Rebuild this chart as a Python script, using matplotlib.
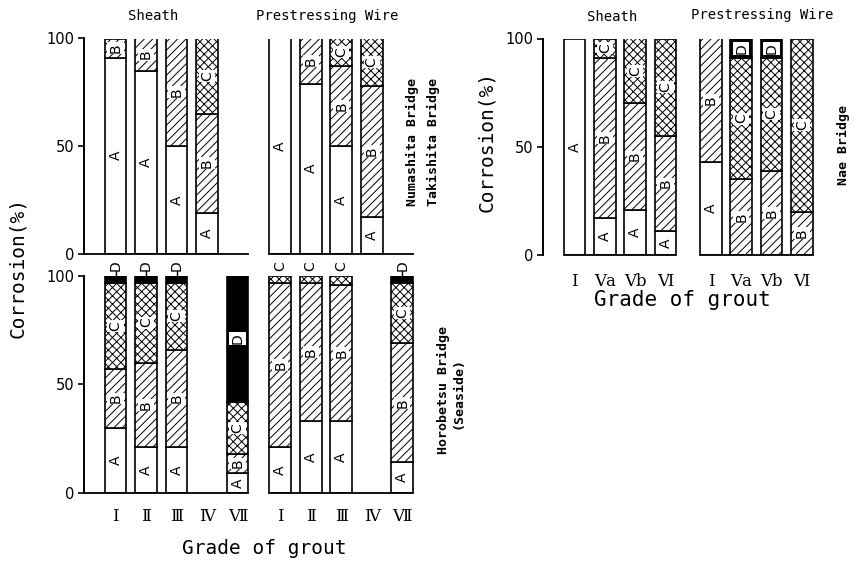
import matplotlib
matplotlib.use('Agg')
import matplotlib.pyplot as plt

plt.rcParams['hatch.linewidth'] = 0.7
plt.rcParams['font.family'] = ['DejaVu Sans']

# ---------------- data ----------------
segments = ['A', 'B', 'C', 'D']

left_grades = ['Ⅰ', 'Ⅱ', 'Ⅲ', 'Ⅳ', 'Ⅶ']
right_grades = ['Ⅰ', 'Ⅴa', 'Ⅴb', 'Ⅵ']

# Numashita / Takishita Bridge (grades I..IV)
top_sheath_A = [91, 85, 50, 19]
top_sheath_B = [9, 15, 50, 46]
top_sheath_C = [0, 0, 0, 35]
top_sheath_D = [0, 0, 0, 0]

top_wire_A = [100, 79, 50, 17]
top_wire_B = [0, 21, 37, 61]
top_wire_C = [0, 0, 13, 22]
top_wire_D = [0, 0, 0, 0]

# Horobetsu Bridge (Seaside) (grades I, II, III, IV, VII)
bot_sheath_A = [30, 21, 21, 0, 9]
bot_sheath_B = [27, 39, 45, 0, 9]
bot_sheath_C = [40, 37, 31, 0, 24]
bot_sheath_D = [3, 3, 3, 0, 58]

bot_wire_A = [21, 33, 33, 0, 14]
bot_wire_B = [76, 64, 63, 0, 55]
bot_wire_C = [3, 3, 4, 0, 28]
bot_wire_D = [0, 0, 0, 0, 3]

# Nae Bridge (grades I, Va, Vb, VI)
nae_sheath_A = [100, 17, 21, 11]
nae_sheath_B = [0, 74, 49, 44]
nae_sheath_C = [0, 9, 30, 45]
nae_sheath_D = [0, 0, 0, 0]

nae_wire_A = [43, 0, 0, 0]
nae_wire_B = [57, 35, 39, 20]
nae_wire_C = [0, 56, 52, 80]
nae_wire_D = [0, 9, 9, 0]

# ---------------- styles ----------------
hatches = {'A': '', 'B': '////', 'C': 'xxxx', 'D': ''}
faces = {'A': 'white', 'B': 'white', 'C': 'white', 'D': 'black'}
BW = 0.72
MONO = 'DejaVu Sans Mono'

W, H = 856, 562
fig = plt.figure(figsize=(W / 100, H / 100), dpi=100)


def fx(px):
    return px / W


def fy(py):
    return 1 - py / H


def draw_group(ax, xs, A, B, C, D):
    data = {'A': A, 'B': B, 'C': C, 'D': D}
    bottoms = [0.0] * len(xs)
    for seg in segments:
        for i, x in enumerate(xs):
            v = data[seg][i]
            if v <= 0:
                continue
            b = bottoms[i]
            ax.bar(x, v, BW, bottom=b, facecolor=faces[seg], edgecolor='black',
                   hatch=hatches[seg], linewidth=1.2)
            if v >= 7:
                box = None if seg == 'A' else dict(facecolor='white', edgecolor='none', pad=0.8)
                ax.text(x, b + v / 2, seg, rotation=90, ha='center', va='center',
                        fontsize=10, bbox=box, zorder=5)
            else:
                ax.text(x, 102.3, seg, rotation=90, ha='center', va='bottom',
                        fontsize=10, zorder=5)
                if seg == 'D':
                    ax.plot([x, x], [100, 102.5], color='black', lw=1.0, clip_on=False)
            bottoms[i] += v


def style_axis(ax, xlim):
    ax.set_xlim(*xlim)
    ax.set_ylim(0, 100)
    for s in ['top', 'right', 'bottom']:
        ax.spines[s].set_visible(False)
    ax.spines['left'].set_bounds(0, 100)
    ax.spines['left'].set_linewidth(1.4)
    ax.set_yticks([0, 50, 100])
    ax.set_yticklabels(['0', '50', '100'])
    ax.tick_params(axis='y', length=4, width=1.2, pad=3, labelsize=10.5)
    ax.patch.set_alpha(0)


def baseline(ax, x0, x1):
    ax.plot([x0, x1], [0, 0], color='black', lw=1.3, clip_on=False)


# left panels
left_sheath_x = [0, 1, 2, 3, 4]
left_wire_x = [5.4, 6.4, 7.4, 8.4, 9.4]
left_xlim = (-1.033, 10.0)
LW = 11.033 * 30.5

ax_tl = fig.add_axes([fx(84), fy(253.5), fx(LW), 215 / H])
draw_group(ax_tl, left_sheath_x[:4], top_sheath_A, top_sheath_B, top_sheath_C, top_sheath_D)
draw_group(ax_tl, left_wire_x[:4], top_wire_A, top_wire_B, top_wire_C, top_wire_D)
style_axis(ax_tl, left_xlim)
ax_tl.set_xticks([])
baseline(ax_tl, left_xlim[0], left_sheath_x[-1] + BW / 2)
baseline(ax_tl, left_wire_x[0] - BW / 2, left_wire_x[-1] + BW / 2)

ax_bl = fig.add_axes([fx(84), fy(492.7), fx(LW), 216.7 / H])
draw_group(ax_bl, left_sheath_x, bot_sheath_A, bot_sheath_B, bot_sheath_C, bot_sheath_D)
draw_group(ax_bl, left_wire_x, bot_wire_A, bot_wire_B, bot_wire_C, bot_wire_D)
style_axis(ax_bl, left_xlim)
ax_bl.set_xticks(left_sheath_x + left_wire_x)
ax_bl.set_xticklabels(left_grades + left_grades, family=['DejaVu Serif', 'Noto Sans CJK JP'],
                      fontsize=12)
ax_bl.tick_params(axis='x', length=0, pad=11)
baseline(ax_bl, left_xlim[0], left_sheath_x[-1] + BW / 2)
baseline(ax_bl, left_wire_x[0] - BW / 2, left_wire_x[-1] + BW / 2)

# right panel (Nae Bridge)
right_sheath_x = [0, 1, 2, 3]
right_wire_x = [4.5, 5.5, 6.5, 7.5]
right_xlim = (-1.04, 8.5)
RW = 9.54 * 30.3
ax_r = fig.add_axes([fx(543), fy(255), fx(RW), 216.5 / H])
draw_group(ax_r, right_sheath_x, nae_sheath_A, nae_sheath_B, nae_sheath_C, nae_sheath_D)
draw_group(ax_r, right_wire_x, nae_wire_A, nae_wire_B, nae_wire_C, nae_wire_D)
style_axis(ax_r, right_xlim)
ax_r.set_xticks(right_sheath_x + right_wire_x)
ax_r.set_xticklabels(right_grades + right_grades, family=['DejaVu Serif', 'Noto Sans CJK JP'],
                     fontsize=12)
ax_r.tick_params(axis='x', length=0, pad=13)
baseline(ax_r, right_sheath_x[0] - BW / 2, right_sheath_x[-1] + BW / 2)
baseline(ax_r, right_wire_x[0] - BW / 2, right_wire_x[-1] + BW / 2)

# ---------------- texts ----------------
fig.text(fx(153), fy(16), 'Sheath', family=MONO, fontsize=10, ha='center', va='center')
fig.text(fx(327), fy(16), 'Prestressing Wire', family=MONO, fontsize=10, ha='center', va='center')
fig.text(fx(612), fy(17), 'Sheath', family=MONO, fontsize=10, ha='center', va='center')
fig.text(fx(762), fy(15), 'Prestressing Wire', family=MONO, fontsize=10, ha='center', va='center')

fig.text(fx(18), fy(267), 'Corrosion(%)', family=MONO, fontsize=14, rotation=90,
         ha='center', va='center')
fig.text(fx(487), fy(142), 'Corrosion(%)', family=MONO, fontsize=14, rotation=90,
         ha='center', va='center')
fig.text(fx(264), fy(549), 'Grade of grout', family=MONO, fontsize=14, ha='center', va='center')
fig.text(fx(682), fy(300), 'Grade of grout', family=MONO, fontsize=15, ha='center', va='center')

fig.text(fx(412), fy(142), 'Numashita Bridge', family=MONO, fontsize=9.5, rotation=90,
         ha='center', va='center', weight='bold')
fig.text(fx(433), fy(142), 'Takishita Bridge', family=MONO, fontsize=9.5, rotation=90,
         ha='center', va='center', weight='bold')
fig.text(fx(443), fy(390), 'Horobetsu Bridge', family=MONO, fontsize=9.5, rotation=90,
         ha='center', va='center', weight='bold')
fig.text(fx(458), fy(393), '(Seaside)', family=MONO, fontsize=9.5, rotation=90,
         ha='center', va='center', weight='bold')
fig.text(fx(843), fy(145), 'Nae Bridge', family=MONO, fontsize=9.5, rotation=90,
         ha='center', va='center', weight='bold')

fig.savefig('out.png', dpi=100)
